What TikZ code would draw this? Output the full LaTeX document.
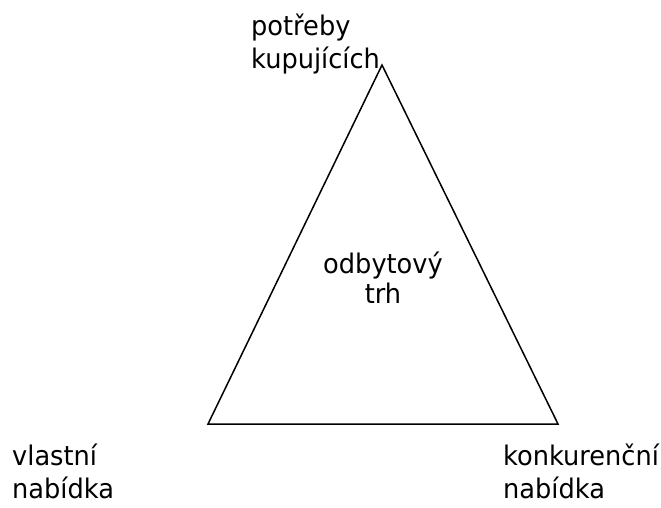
\documentclass[tikz,border=0pt]{standalone}
\usepackage{fontspec}
\setmainfont{DejaVu Sans}[FakeStretch=0.95]
\begin{document}
\begin{tikzpicture}[x=1pt,y=-1pt,
  lbl/.style={inner sep=0pt,font=\fontsize{27}{33}\selectfont,align=left},
  lblc/.style={inner sep=0pt,font=\fontsize{27}{30}\selectfont,align=center},
  edge/.style={draw=black,line width=1.5pt,line join=miter}]
\useasboundingbox (0,0) rectangle (661,507);
\coordinate (apex) at (382,65);
\coordinate (bl) at (208,424);
\coordinate (br) at (558,424);
\draw[edge] (apex) -- (bl) -- (br) -- cycle;
\node[lbl,anchor=base west] (top) at (251,68) {potřeby\\kupujících};
\node[lblc,anchor=base] (mid) at (383,303) {odbytový\\trh};
\node[lbl,anchor=base west] (left) at (12,498) {vlastní\\nabídka};
\node[lbl,anchor=base west] (right) at (503,498) {konkurenční\\nabídka};
\end{tikzpicture}
\end{document}
